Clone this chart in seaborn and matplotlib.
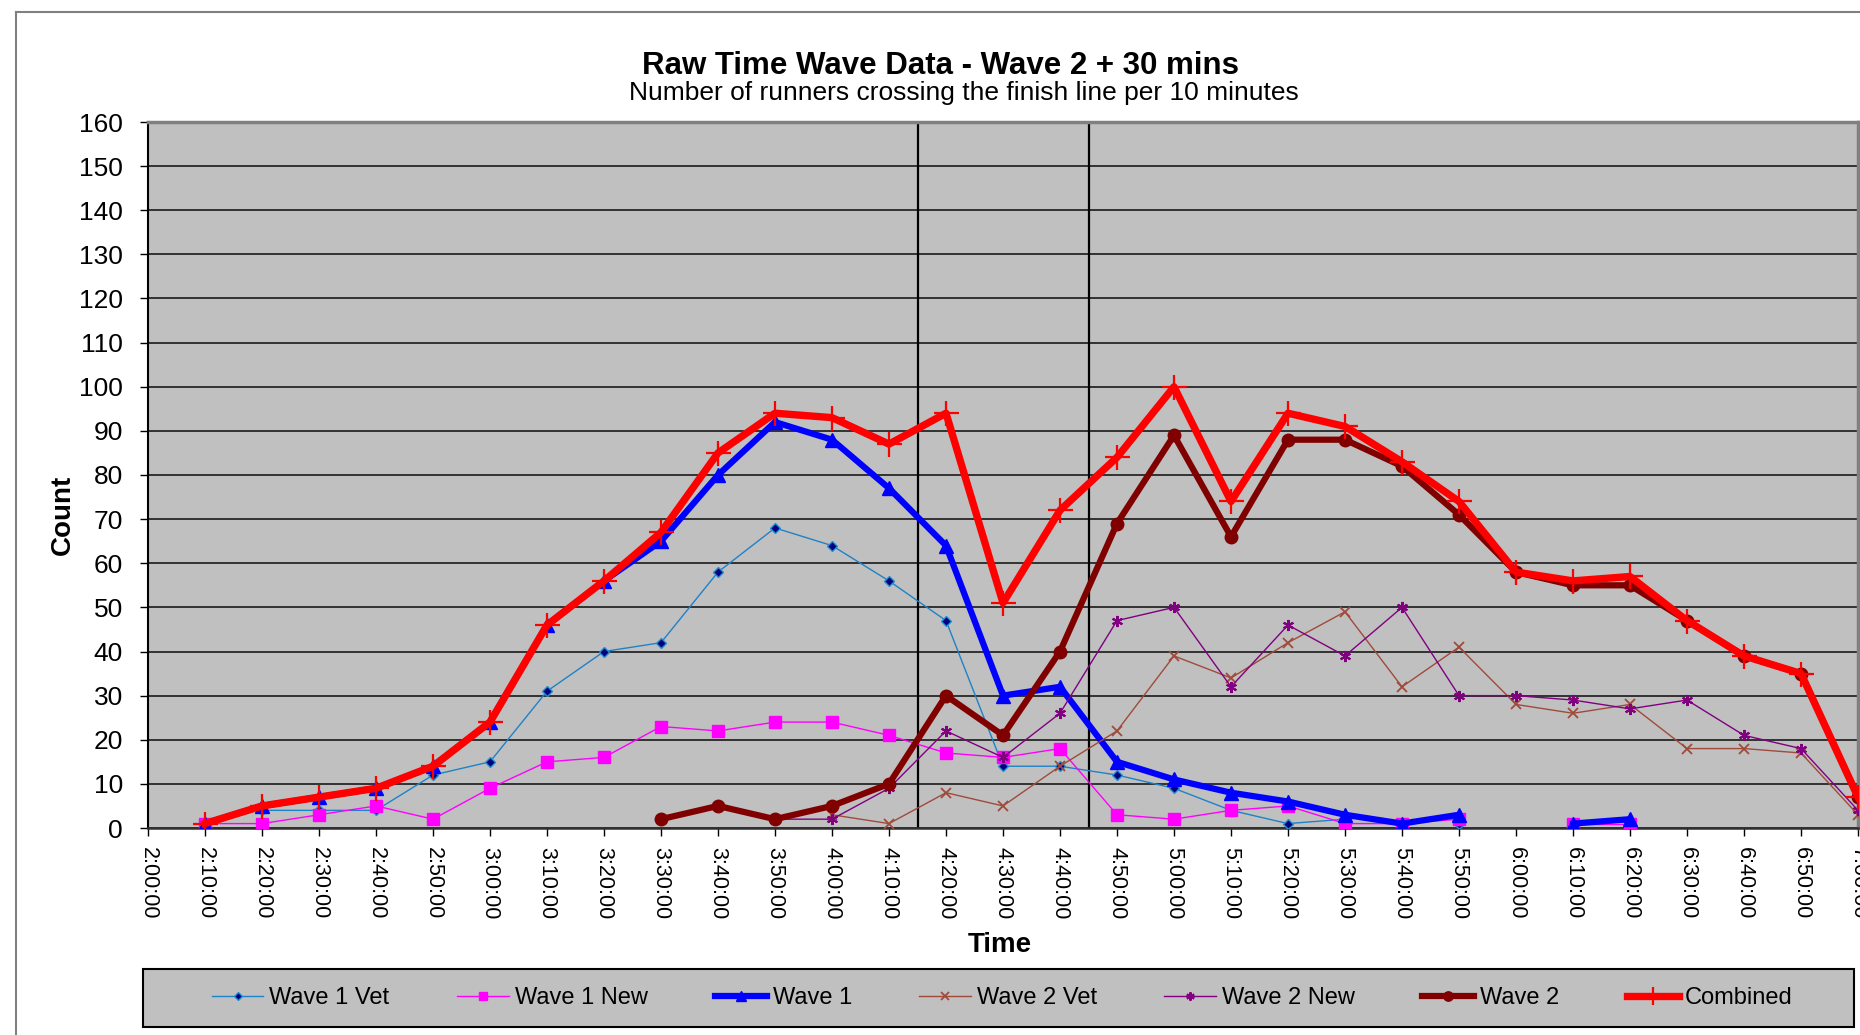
import numpy as np
import pandas as pd
import seaborn as sns
import matplotlib.pyplot as plt
from matplotlib.lines import Line2D
from matplotlib.patches import Rectangle

nan = np.nan

# Categorias del eje X (cada 10 minutos)
times = ['2:00:00', '2:10:00', '2:20:00', '2:30:00', '2:40:00', '2:50:00',
         '3:00:00', '3:10:00', '3:20:00', '3:30:00', '3:40:00', '3:50:00',
         '4:00:00', '4:10:00', '4:20:00', '4:30:00', '4:40:00', '4:50:00',
         '5:00:00', '5:10:00', '5:20:00', '5:30:00', '5:40:00', '5:50:00',
         '6:00:00', '6:10:00', '6:20:00', '6:30:00', '6:40:00', '6:50:00',
         '7:00:00']

wave1_vet = [nan, nan, 4, 4, 4, 12, 15, 31, 40, 42, 58, 68, 64, 56, 47, 14,
             14, 12, 9, 4, 1, 2, nan, 1, nan, nan, 1, nan, nan, nan, nan]
wave1_new = [nan, 1, 1, 3, 5, 2, 9, 15, 16, 23, 22, 24, 24, 21, 17, 16,
             18, 3, 2, 4, 5, 1, 1, 2, nan, 1, 1, nan, nan, nan, nan]
wave1 = [nan, 1, 5, 7, 9, 14, 24, 46, 56, 65, 80, 92, 88, 77, 64, 30,
         32, 15, 11, 8, 6, 3, 1, 3, nan, 1, 2, nan, nan, nan, nan]
wave2_vet = [nan] * 12 + [3, 1, 8, 5, 14, 22, 39, 34, 42, 49, 32, 41, 28,
                          26, 28, 18, 18, 17, 3]
wave2_new = [nan] * 9 + [2, 5, 2, 2, 9, 22, 16, 26, 47, 50, 32, 46, 39, 50,
                         30, 30, 29, 27, 29, 21, 18, 4]
wave2 = [nan] * 9 + [2, 5, 2, 5, 10, 30, 21, 40, 69, 89, 66, 88, 88, 82, 71,
                     58, 55, 55, 47, 39, 35, 7]
combined = [nan, 1, 5, 7, 9, 14, 24, 46, 56, 67, 85, 94, 93, 87, 94, 51, 72,
            84, 100, 74, 94, 91, 83, 74, 58, 56, 57, 47, 39, 35, 7]

series = ['Wave 1 Vet', 'Wave 1 New', 'Wave 1', 'Wave 2 Vet', 'Wave 2 New',
          'Wave 2', 'Combined']
values = [wave1_vet, wave1_new, wave1, wave2_vet, wave2_new, wave2, combined]

# estilo de cada serie (tipo Excel)
styles = {
    'Wave 1 Vet': dict(color='#1E82C8', lw=1.0, marker='D', ms=5, mfc='#000080', mec='#2090D0', mew=1.0),
    'Wave 1 New': dict(color='#FF00FF', lw=1.0, marker='s', ms=8, mfc='#FF00FF', mec='#FF00FF', mew=1.0),
    'Wave 1': dict(color='#0000FF', lw=4.5, marker='^', ms=10, mfc='#0000FF', mec='#0000FF', mew=1.0),
    'Wave 2 Vet': dict(color='#A04A3C', lw=1.0, marker='x', ms=7, mfc='#A04A3C', mec='#A04A3C', mew=1.3),
    'Wave 2 New': dict(color='#800080', lw=1.0, marker=(6, 2, 0), ms=8, mfc='#800080', mec='#800080', mew=1.5),
    'Wave 2': dict(color='#800000', lw=4.5, marker='o', ms=9, mfc='#800000', mec='#800000', mew=1.0),
    'Combined': dict(color='#FF0000', lw=5.3, marker='+', ms=18, mfc='#FF0000', mec='#FF0000', mew=1.6),
}

plt.rcParams['font.family'] = ['Liberation Sans', 'DejaVu Sans']

fig = plt.figure(figsize=(18.6, 10.35), dpi=100)
ax = fig.add_axes([148 / 1860, 1 - 828 / 1035, (1858 - 148) / 1860, (828 - 122) / 1035])
ax.set_facecolor('#C0C0C0')

x_pos = np.arange(len(times))
for name, vals in zip(series, values):
    df = pd.DataFrame({'x': x_pos, 'y': vals})
    # los huecos cortan la linea
    df['seg'] = df['y'].isna().cumsum()
    df = df.dropna()
    st = styles[name]
    sns.lineplot(data=df, x='x', y='y', units='seg', estimator=None, sort=False,
                 ax=ax, legend=False, color=st['color'], linewidth=st['lw'],
                 marker=st['marker'], markersize=st['ms'],
                 markerfacecolor=st['mfc'], markeredgecolor=st['mec'],
                 markeredgewidth=st['mew'], zorder=3)

# lineas verticales de referencia
for xv in [13.5, 16.5]:
    ax.axvline(xv, color='black', lw=1.6, zorder=2)

ax.set_xlim(0, len(times) - 1)
ax.set_ylim(0, 160)
ax.set_xticks(x_pos)
ax.set_xticklabels(times, rotation=-90, fontsize=15.5, va='top', ha='center')
ax.set_yticks(np.arange(0, 161, 10))
ax.tick_params(axis='y', labelsize=19, length=6, width=1, pad=12, direction='out')
ax.tick_params(axis='x', length=6, width=1, pad=8, direction='out')
ax.set_xlabel('')
ax.set_ylabel('')

ax.set_axisbelow(True)
ax.yaxis.grid(True, color='#1A1A1A', lw=1.2)
ax.xaxis.grid(False)
ax.spines['left'].set_color('black')
ax.spines['left'].set_linewidth(1.5)
ax.spines['bottom'].set_color('#303030')
ax.spines['bottom'].set_linewidth(1.8)
ax.spines['top'].set_color('#808080')
ax.spines['top'].set_linewidth(2.5)
ax.spines['right'].set_color('#808080')
ax.spines['right'].set_linewidth(2.5)

# titulos
fig.text(941 / 1860, 1 - 66 / 1035, 'Raw Time Wave Data - Wave 2 + 30 mins',
         ha='center', va='center', fontsize=22.5, fontweight='bold')
fig.text(964 / 1860, 1 - 93 / 1035, 'Number of runners crossing the finish line per 10 minutes',
         ha='center', va='center', fontsize=19)
fig.text(63 / 1860, 1 - 515 / 1035, 'Count', rotation=90, ha='center', va='center',
         fontsize=20, fontweight='bold')
fig.text(1000 / 1860, 1 - 945 / 1035, 'Time', ha='center', va='center',
         fontsize=20, fontweight='bold')

# borde del area del grafico
fig.add_artist(Line2D([16 / 1860, 16 / 1860], [0, 1 - 12 / 1035],
                      transform=fig.transFigure, color='#808080', lw=1.5))
fig.add_artist(Line2D([16 / 1860, 1], [1 - 12 / 1035, 1 - 12 / 1035],
                      transform=fig.transFigure, color='#808080', lw=1.5))

# leyenda
fig.add_artist(Rectangle((143 / 1860, 1 - 1027 / 1035), (1854 - 143) / 1860, (1027 - 969) / 1035,
                         transform=fig.transFigure, facecolor='#C0C0C0',
                         edgecolor='black', lw=1.5, zorder=0))
handles = []
for name in series:
    st = styles[name]
    handles.append(Line2D([], [], color=st['color'], lw=st['lw'], marker=st['marker'],
                          markersize=st['ms'] * 0.75, markerfacecolor=st['mfc'],
                          markeredgecolor=st['mec'], markeredgewidth=st['mew']))
fig.legend(handles, series, loc='center', bbox_to_anchor=(1002 / 1860, 1 - 998 / 1035),
           ncol=7, frameon=False, fontsize=17, handlelength=2.2, handletextpad=0.25,
           columnspacing=2.85)

plt.savefig('out.png', dpi=100)
